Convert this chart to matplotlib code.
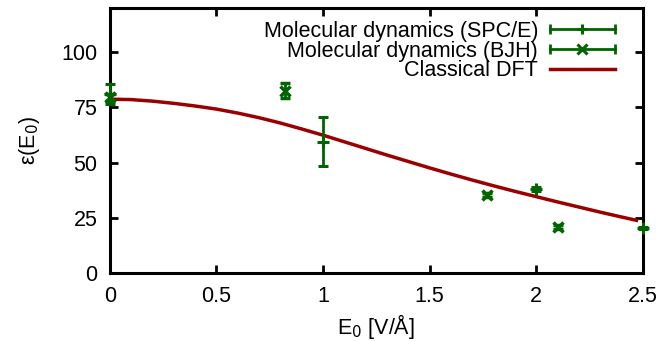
import matplotlib
matplotlib.use("Agg")
import matplotlib.pyplot as plt
from matplotlib.lines import Line2D
from matplotlib.legend_handler import HandlerBase

plt.rcParams['font.family'] = ['Liberation Sans', 'DejaVu Sans']

# Data
spce_x = [0.0, 1.0, 2.0, 2.5]
spce_y = [81.0, 59.5, 38.0, 20.5]
spce_err = [4.5, 11.0, 1.0, 0.5]

bjh_x = [0.0, 0.82, 1.77, 2.1]
bjh_y = [79.5, 82.5, 35.3, 20.8]
bjh_err = [1.5, 3.4, 1.0, 1.0]

dft_x = [0.0, 0.1, 0.2, 0.3, 0.4, 0.5, 0.6, 0.7, 0.8, 0.9, 1.0, 1.1, 1.2,
         1.3, 1.4, 1.5, 1.6, 1.7, 1.8, 1.9, 2.0, 2.1, 2.2, 2.3, 2.4, 2.47]
dft_y = [78.7, 78.5, 77.8, 76.8, 75.6, 74.2, 72.4, 70.3, 67.9, 65.2, 62.4,
         59.4, 56.4, 53.4, 50.5, 47.6, 44.8, 42.1, 39.5, 37.0, 34.6, 32.2,
         29.9, 27.6, 25.4, 23.9]

xticks = [0, 0.5, 1, 1.5, 2, 2.5]
xtick_labels = ["0", "0.5", "1", "1.5", "2", "2.5"]
yticks = [0, 25, 50, 75, 100]

GREEN = "#006400"
RED = "#9b0000"
FS = 15.5


class GnuErrHandler(HandlerBase):
    def __init__(self, marker, **kw):
        super().__init__(**kw)
        self.marker = marker

    def create_artists(self, legend, orig_handle, xdescent, ydescent,
                       width, height, fontsize, trans):
        y = height / 2 - ydescent
        x0, x1 = -xdescent, width - xdescent
        line = Line2D([x0, x1], [y, y], color=GREEN, lw=2, transform=trans)
        caps = Line2D([x0, x1], [y, y], ls='none', marker='|', ms=7,
                      mew=2, color=GREEN, transform=trans)
        mid = Line2D([(x0 + x1) / 2], [y], ls='none', marker=self.marker,
                     ms=7, mew=2.2, color=GREEN, transform=trans)
        return [line, caps, mid]


fig = plt.figure(figsize=(6.62, 3.41), dpi=100)
ax = fig.add_axes([0.166, 0.199, 0.805, 0.778])

c1 = ax.errorbar(spce_x, spce_y, yerr=spce_err, fmt='+', color=GREEN,
                 ms=8, mew=2.2, elinewidth=2, capsize=3.5, capthick=2,
                 clip_on=False, zorder=3, label="Molecular dynamics (SPC/E)")
c2 = ax.errorbar(bjh_x, bjh_y, yerr=bjh_err, fmt='x', color=GREEN,
                 ms=7.5, mew=2.5, elinewidth=2, capsize=3.5, capthick=2,
                 clip_on=False, zorder=3, label="Molecular dynamics (BJH)")
l3, = ax.plot(dft_x, dft_y, color=RED, lw=2.5, label="Classical DFT", zorder=2)

ax.set_xlim(0, 2.5)
ax.set_ylim(0, 120)
ax.set_xticks(xticks)
ax.set_xticklabels(xtick_labels)
ax.set_yticks(yticks)
ax.tick_params(direction='in', length=6, width=2, labelsize=FS,
               top=True, right=True, pad=9)
for s in ax.spines.values():
    s.set_linewidth(2.2)

ax.set_xlabel("E$_0$ [V/Å]", fontsize=FS, labelpad=4)
ax.set_ylabel("ε(E$_0$)", fontsize=FS, labelpad=14)

leg = ax.legend([c1, c2, l3],
                ["Molecular dynamics (SPC/E)", "Molecular dynamics (BJH)",
                 "Classical DFT"],
                handler_map={c1: GnuErrHandler('+'), c2: GnuErrHandler('x')},
                loc='upper right', bbox_to_anchor=(0.947, 0.952),
                frameon=False, markerfirst=False, fontsize=FS,
                handlelength=3.0, handletextpad=0.55, labelspacing=-0.05,
                borderpad=0, borderaxespad=0)
for t in leg.get_texts():
    t.set_ha('right')

fig.savefig("out.png", dpi=100)
